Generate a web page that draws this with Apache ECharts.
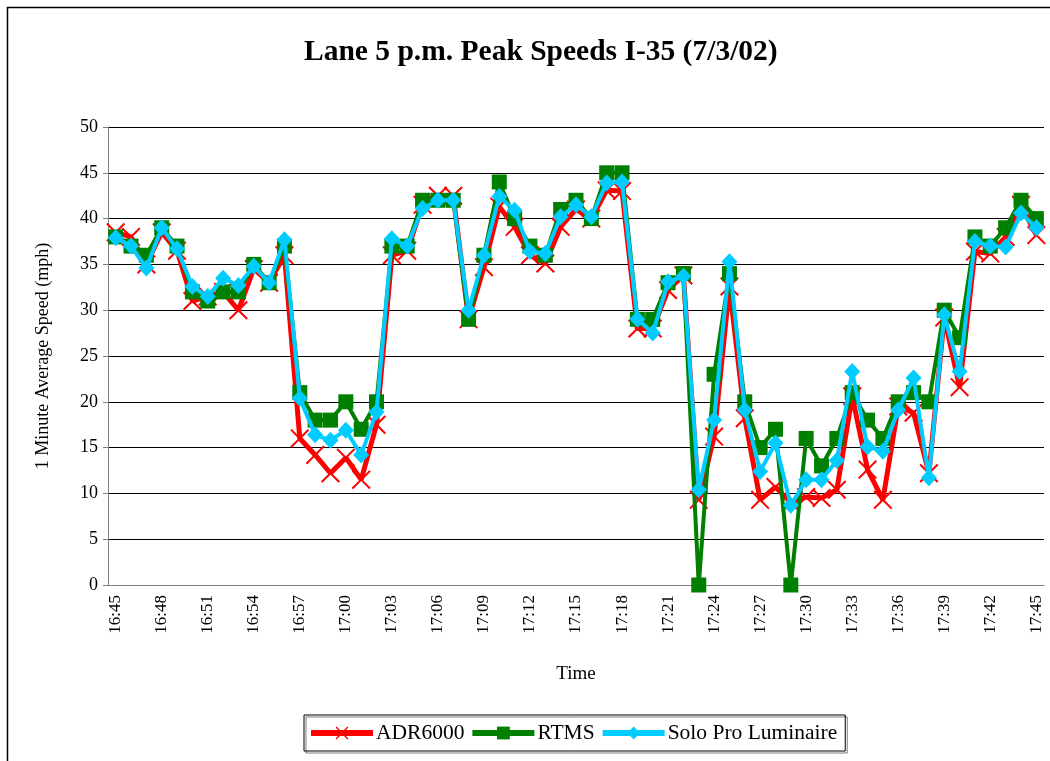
<!DOCTYPE html>
<html>
<head>
<meta charset="utf-8">
<script src="https://cdn.jsdelivr.net/npm/echarts@6/dist/echarts.min.js"></script>
<style>
  html, body { margin: 0; padding: 0; background: #fff; }
  #chart { width: 1050px; height: 761px; }
</style>
</head>
<body>
<div id="chart"></div>
<script>
// times, one per minute 16:45 - 17:45
const times = [];
for (let m = 45; m <= 105; m++) {
  const h = 16 + Math.floor(m / 60);
  const mm = m % 60;
  times.push(h + ':' + (mm < 10 ? '0' : '') + mm);
}

const adr6000 = [38.5, 38, 35, 38.5, 36.5, 31, 31.5, 32, 30, 34.5, 33, 36,
  16, 14.2, 12.2, 13.9, 11.5, 17.5, 36, 36.5, 41.5, 42.5, 42.5, 29, 34.7,
  41.3, 39.1, 36, 35.1, 39.1, 41, 40, 43.1, 43, 28, 28, 32.2, 33.8, 9.3,
  16.2, 32.6, 18.2, 9.3, 10.7, 9, 9.6, 9.5, 10.4, 20.6, 12.6, 9.3, 19.5,
  18.8, 12.2, 29.2, 21.6, 36.4, 36.2, 38, 41.5, 38.2];

const rtms = [38, 37, 36, 39, 37, 32, 31, 32, 32, 35, 33, 37, 21, 18, 18, 20,
  17, 20, 37, 37, 42, 42, 42, 29, 36, 44, 40, 37, 36, 41, 42, 40, 45, 45, 29,
  29, 33, 34, 0, 23, 34, 20, 15, 17, 0, 16, 13, 16, 21, 18, 16, 20, 21, 20,
  30, 27, 38, 37, 39, 42, 40];

const soloPro = [37.9, 37, 34.6, 39, 36.7, 32.6, 31.5, 33.5, 32.7, 34.8, 33,
  37.7, 20.4, 16.4, 15.8, 16.9, 14.2, 18.9, 37.8, 37, 41.1, 42, 42, 30, 36,
  42.4, 40.9, 36.4, 36.2, 40.2, 41.5, 40.2, 43.9, 44, 29, 27.5, 33.1, 33.7,
  10.4, 18, 35.3, 19.1, 12.4, 15.5, 8.7, 11.5, 11.5, 13.6, 23.3, 15.1, 14.6,
  19.1, 22.6, 11.7, 29.5, 23.3, 37.5, 37, 36.9, 40.6, 39];

const serif = '"Liberation Serif", "DejaVu Serif", serif';
// thin X shape for the ADR6000 markers
const crossPath = 'path://M0,1.5 L1.5,0 L10,8.5 L18.5,0 L20,1.5 L11.5,10 L20,18.5 L18.5,20 L10,11.5 L1.5,20 L0,18.5 L8.5,10 Z';

const chart = echarts.init(document.getElementById('chart'));

const option = {
  backgroundColor: '#fff',
  animation: false,
  title: {
    text: 'Lane 5 p.m. Peak Speeds I-35 (7/3/02)',
    left: 299,
    top: 32,
    textStyle: { fontFamily: serif, fontSize: 29.5, fontWeight: 'bold', color: '#000' }
  },
  legend: {
    top: 715,
    left: 304,
    itemGap: 5,
    itemWidth: 62,
    itemHeight: 16,
    padding: [7, 8, 7, 4],
    borderColor: '#000',
    borderWidth: 1,
    shadowColor: 'rgba(0,0,0,0.5)',
    shadowOffsetX: 2,
    shadowOffsetY: 2,
    lineStyle: { width: 6 },
    textStyle: { fontFamily: serif, fontSize: 21.5, color: '#000', padding: [0, 0, 0, -2] },
    data: ['ADR6000', 'RTMS', 'Solo Pro Luminaire']
  },
  grid: { left: 108, right: 6, top: 127, bottom: 176 },
  xAxis: {
    type: 'category',
    data: times,
    name: 'Time',
    nameLocation: 'middle',
    nameGap: 80,
    nameTextStyle: { fontFamily: serif, fontSize: 19, color: '#000' },
    axisLine: { lineStyle: { color: '#808080' } },
    axisTick: { interval: 0, length: 5, lineStyle: { color: '#808080' } },
    axisLabel: {
      interval: 2,
      rotate: 90,
      margin: 10,
      fontFamily: serif,
      fontSize: 17,
      color: '#000'
    }
  },
  yAxis: {
    type: 'value',
    min: 0,
    max: 50,
    interval: 5,
    name: '1 Minute Average Speed (mph)',
    nameLocation: 'middle',
    nameGap: 56,
    nameTextStyle: { fontFamily: serif, fontSize: 18, color: '#000' },
    axisLine: { show: true, lineStyle: { color: '#808080' } },
    axisTick: { show: true, length: 5, lineStyle: { color: '#808080' } },
    axisLabel: { fontFamily: serif, fontSize: 18, color: '#000', margin: 10 },
    splitLine: { lineStyle: { color: '#000', width: 1 } }
  },
  series: [
    {
      name: 'ADR6000',
      type: 'line',
      data: adr6000,
      symbol: crossPath,
      symbolSize: 19,
      showAllSymbol: true,
      itemStyle: { color: '#ff0000' },
      lineStyle: { color: '#ff0000', width: 5 },
      z: 2
    },
    {
      name: 'RTMS',
      type: 'line',
      data: rtms,
      symbol: 'rect',
      symbolSize: 15,
      showAllSymbol: true,
      itemStyle: { color: '#008000' },
      lineStyle: { color: '#008000', width: 4 },
      z: 3
    },
    {
      name: 'Solo Pro Luminaire',
      type: 'line',
      data: soloPro,
      symbol: 'diamond',
      symbolSize: [16, 17],
      showAllSymbol: true,
      itemStyle: { color: '#00ccff' },
      lineStyle: { color: '#00ccff', width: 4 },
      z: 4
    }
  ],
  graphic: [
    {
      type: 'rect',
      shape: { x: 7.5, y: 7.5, width: 1100, height: 800 },
      style: { fill: 'none', stroke: '#000', lineWidth: 1.5 },
      silent: true
    }
  ]
};

chart.setOption(option);
</script>
</body>
</html>
